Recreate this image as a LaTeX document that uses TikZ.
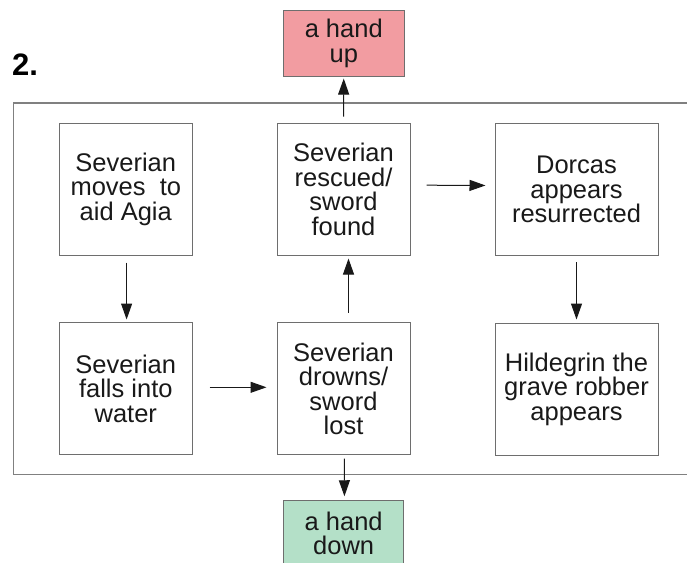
\documentclass[tikz,border=0pt]{standalone}
\usepackage{fontspec}
\setmainfont{Liberation Sans}
\usetikzlibrary{arrows.meta}
\definecolor{boxgray}{HTML}{6E6E6E}
\definecolor{framegray}{HTML}{808080}
\definecolor{pinkfill}{HTML}{F29CA1}
\definecolor{greenfill}{HTML}{B4E0C8}
\tikzset{
  evbox/.style={draw=boxgray, line width=1pt, inner sep=0pt, align=center,
    font=\fontsize{25.5pt}{24.5pt}\selectfont, text=black!90},
  handbox/.style={evbox, minimum width=120.5pt, minimum height=66.3pt},
  arr/.style={draw=black!90, line width=1pt, -{Triangle[length=16pt,width=11pt]}},
}
\begin{document}
\begin{tikzpicture}[x=1pt,y=-1pt]
\useasboundingbox (0,0) rectangle (687,562);
\clip (0,0) rectangle (687,562);
\fill[white] (0,0) rectangle (687,562);

% outer frame (open to the right)
\draw[framegray, line width=1.3pt] (700,103) -- (13.3,103) -- (13.3,474.5) -- (700,474.5);

\node[anchor=base west, inner sep=0pt, font=\fontsize{31pt}{31pt}\selectfont\bfseries] (num) at (12,75.7) {2.};

\node[evbox, minimum width=132.4pt, minimum height=131.7pt] (b1) at (125.8,189.2) {Severian\\moves\ \ to\\aid Agia};
\node[evbox, minimum width=133pt, minimum height=131.7pt] (b2) at (343.5,189.2) {Severian\\rescued/\\sword\\found};
\node[evbox, minimum width=163pt, minimum height=132.5pt] (b3) at (576.5,189.5) {Dorcas\\appears\\resurrected};
\node[evbox, minimum width=132.4pt, minimum height=132pt] (b4) at (125.8,388.7) {Severian\\falls into\\water};
\node[evbox, minimum width=133pt, minimum height=132pt] (b5) at (343.5,388.7) {Severian\\drowns/\\sword\\lost};
\node[evbox, minimum width=163pt, minimum height=132pt] (b6) at (576.5,389) {Hildegrin the\\grave robber\\appears};

\node[handbox, fill=pinkfill] (up) at (343.75,43.2) {a hand\\up};
\node[handbox, fill=greenfill] (down) at (343.65,533.2) {a hand\\down};

\draw[arr, shorten >=1.7pt] ([yshift=6.3pt]b2.north) -- (up.south);
\draw[arr, shorten >=9pt] ([xshift=16pt,yshift=4pt]b2.east) -- ([yshift=4pt]b3.west);
\draw[arr, shorten >=2.7pt] ([yshift=-7pt,xshift=0.8pt]b1.south) -- ([xshift=0.8pt]b4.north);
\draw[arr, shorten >=3pt] ([yshift=-6pt]b3.south) -- (b6.north);
\draw[arr, shorten >=10pt] ([xshift=17pt,yshift=1.4pt]b4.east) -- ([yshift=1.4pt]b5.west);
\draw[arr, shorten >=3pt] ([yshift=9.7pt,xshift=5pt]b5.north) -- ([xshift=5pt]b2.south);
\draw[arr, shorten >=3.3pt] ([yshift=-3.3pt,xshift=0.8pt]b5.south) -- ([xshift=0.8pt]down.north);
\end{tikzpicture}
\end{document}
